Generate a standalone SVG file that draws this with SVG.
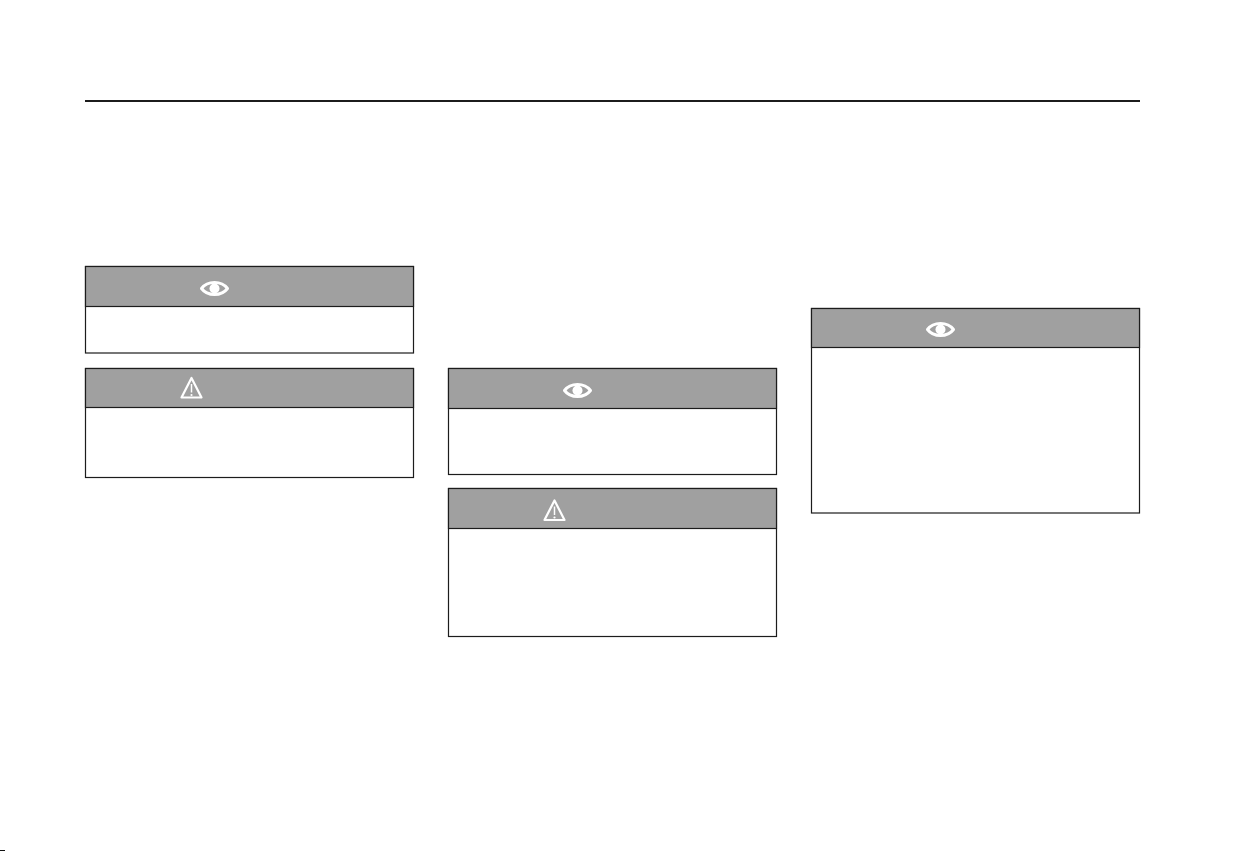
<svg xmlns="http://www.w3.org/2000/svg" width="1248" height="851" viewBox="0 0 1248 851">
  <style>
    .body { fill: #fff; stroke: #1c1c1c; stroke-width: 1.2; }
    .head { fill: #a0a0a0; stroke: #1c1c1c; stroke-width: 1.2; }
    .rule { stroke: #1c1c1c; stroke-width: 2; fill: none; }
    .ico { fill: none; stroke: #fff; stroke-width: 2.2; stroke-linejoin: round; }
    .eye-line { stroke-width: 3; }
    .dot { fill: #fff; }
  </style>
  <defs>
    <g id="eye">
      <path class="ico eye-line" d="M-13 0 C-7 -8 7 -8 13 0 C7 8 -7 8 -13 0 Z"/>
      <circle class="dot" cx="0" cy="0" r="5"/>
    </g>
    <g id="warn">
      <path class="ico" d="M0 -10 L10 9.5 L-10 9.5 Z"/>
      <path d="M0 -4 V4.5" stroke="#fff" stroke-width="1.5" fill="none"/>
      <circle class="dot" cx="0" cy="7" r="1.1"/>
    </g>
  </defs>
  <rect width="1248" height="851" fill="#fff"/>
  <path id="top-rule" class="rule" d="M85 101 H1140"/>
  <rect id="edge-mark" x="0" y="850" width="5" height="1" fill="#111"/>
  <g id="box-1">
    <rect class="body" x="85.5" y="266.5" width="328" height="86.5"/>
    <rect class="head" x="85.5" y="266.5" width="328" height="40"/>
    <use href="#eye" x="214.5" y="288.5"/>
  </g>
  <g id="box-2">
    <rect class="body" x="85.5" y="368.5" width="328" height="109"/>
    <rect class="head" x="85.5" y="368.5" width="328" height="39"/>
    <use href="#warn" x="191.5" y="388"/>
  </g>
  <g id="box-3">
    <rect class="body" x="448.5" y="368.5" width="328" height="106"/>
    <rect class="head" x="448.5" y="368.5" width="328" height="40"/>
    <use href="#eye" x="577.5" y="390.5"/>
  </g>
  <g id="box-4">
    <rect class="body" x="448.5" y="488.5" width="328" height="148"/>
    <rect class="head" x="448.5" y="488.5" width="328" height="40"/>
    <use href="#warn" x="554.5" y="510.5"/>
  </g>
  <g id="box-5">
    <rect class="body" x="811.5" y="308.5" width="328" height="204.5"/>
    <rect class="head" x="811.5" y="308.5" width="328" height="39"/>
    <use href="#eye" x="940.5" y="329.5"/>
  </g>
</svg>
